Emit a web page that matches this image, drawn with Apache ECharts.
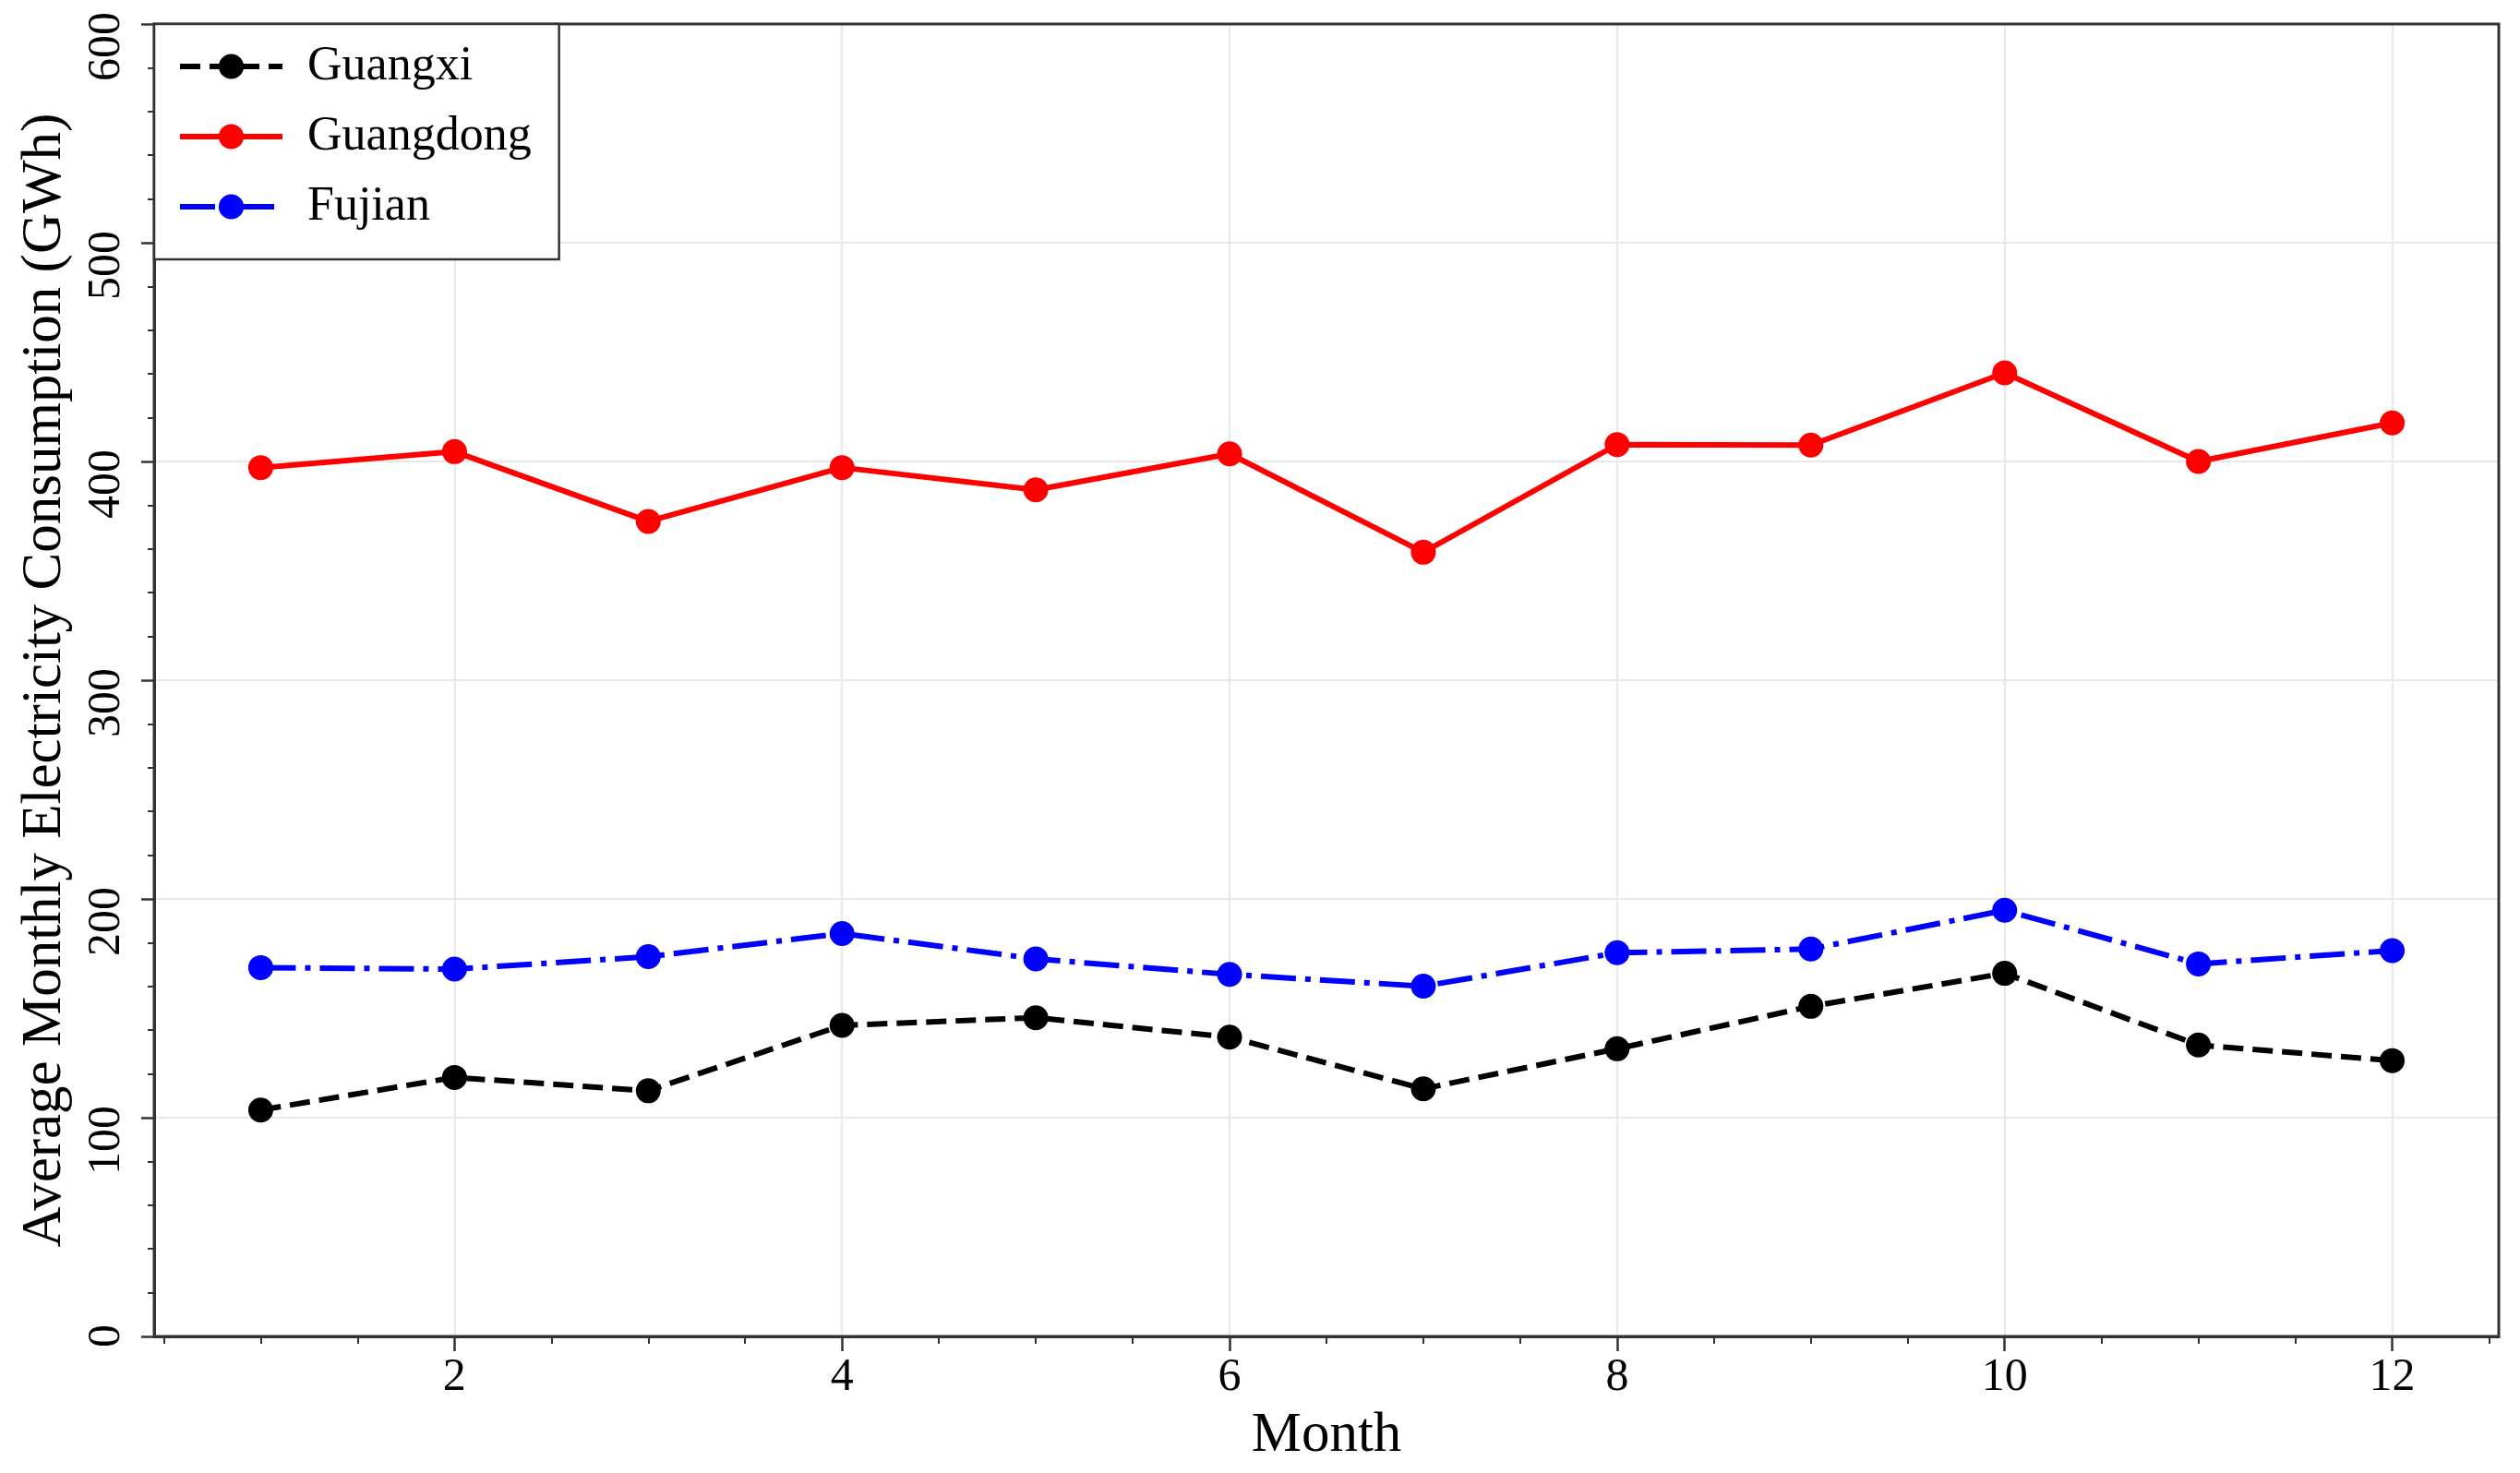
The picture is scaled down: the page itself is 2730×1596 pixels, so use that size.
<!DOCTYPE html>
<html>
<head>
<meta charset="utf-8">
<script src="https://cdn.jsdelivr.net/npm/echarts@6/dist/echarts.min.js"></script>
<style>
html,body{margin:0;padding:0;background:#fff;}
#chart{width:2730px;height:1596px;}
</style>
</head>
<body>
<div id="chart"></div>
<script>
const months = [1,2,3,4,5,6,7,8,9,10,11,12];
const guangxi = [103.5,118.4,112.3,142.2,145.7,136.8,113.2,131.5,150.9,166.0,133.2,126.1];
const guangdong = [397.2,404.5,372.6,397.2,387.0,403.5,358.5,407.7,407.5,440.5,400.0,417.6];
const fujian = [168.6,167.9,173.6,184.2,172.6,165.5,160.1,175.4,177.1,194.8,170.3,176.4];
const xMajorTicks = [2,4,6,8,10,12];
const xMinorTicks = [0.5,1,1.5,2.5,3,3.5,4.5,5,5.5,6.5,7,7.5,8.5,9,9.5,10.5,11,11.5,12.5];
const seriesNames = ['Guangxi','Guangdong','Fujian'];

const FONT = '"Liberation Serif", "Times New Roman", serif';
const AX = '#333333';
const GRIDC = '#e8e8e8';

function pairs(vals){ return months.map((m,i)=>[m, vals[i]]); }

const chart = echarts.init(document.getElementById('chart'));
chart.setOption({
  backgroundColor: '#ffffff',
  animation: false,
  grid: {left:167, right:23, top:26, bottom:148, show:true, borderColor:AX, borderWidth:3,
         backgroundColor:'transparent', outerBoundsMode:'none', containLabel:false, z:10},
  legend: {
    data: seriesNames,
    orient: 'vertical',
    left: 167, top: 26,
    padding: [20, 30, 31, 25],
    itemWidth: 111, itemHeight: 34, itemGap: 24,
    backgroundColor: '#ffffff',
    borderColor: AX, borderWidth: 2.5, borderRadius: 0,
    lineStyle: {width: 6},
    textStyle: {fontFamily: FONT, fontSize: 52, color: '#000', lineHeight: 52, padding: [0,0,0,22]},
    z: 20
  },
  xAxis: [{
    type: 'value', min: 0.45, max: 12.55,
    name: 'Month', nameLocation: 'middle', nameGap: 77,
    nameTextStyle: {fontFamily: FONT, fontSize: 61, color: '#000'},
    axisLine: {show: true, lineStyle: {color: AX, width: 3}},
    axisTick: {show: true, inside: false, length: 16, lineStyle: {color: AX, width: 2.5}, customValues: xMajorTicks},
    axisLabel: {fontFamily: FONT, fontSize: 50, color: '#000', margin: 20, customValues: xMajorTicks},
    splitLine: {show: true, lineStyle: {color: GRIDC, width: 2}, customValues: xMajorTicks}
  },{
    type: 'value', min: 0.45, max: 12.55, position: 'bottom', offset: 0,
    axisLine: {show: false},
    axisTick: {show: true, inside: false, length: 8, lineStyle: {color: AX, width: 2}, customValues: xMinorTicks},
    axisLabel: {show: false},
    splitLine: {show: false}
  }],
  yAxis: {
    type: 'value', min: 0, max: 600, interval: 100,
    name: 'Average Monthly Electricity Consumption (GWh)', nameLocation: 'middle', nameGap: 88, nameRotate: 90,
    nameTextStyle: {fontFamily: FONT, fontSize: 61, color: '#000'},
    axisLine: {show: true, lineStyle: {color: AX, width: 3}},
    axisTick: {show: true, inside: false, length: 14, lineStyle: {color: AX, width: 2.5}},
    minorTick: {show: true, splitNumber: 5, length: 7, lineStyle: {color: AX, width: 2}},
    axisLabel: {fontFamily: FONT, fontSize: 50, color: '#000', rotate: 90, margin: 26, align: 'right', padding: [0, -13, 0, 0]},
    splitLine: {show: true, showMinLine: false, showMaxLine: false, lineStyle: {color: GRIDC, width: 2}}
  },
  series: [
    {name: 'Guangxi', type: 'line', data: pairs(guangxi), symbol: 'circle', symbolSize: 27,
     itemStyle: {color: '#000000'}, lineStyle: {color: '#000000', width: 6, type: [22,10]}, z: 3},
    {name: 'Guangdong', type: 'line', data: pairs(guangdong), symbol: 'circle', symbolSize: 27,
     itemStyle: {color: '#ff0000'}, lineStyle: {color: '#ff0000', width: 6, type: 'solid'}, z: 3},
    {name: 'Fujian', type: 'line', data: pairs(fujian), symbol: 'circle', symbolSize: 27,
     itemStyle: {color: '#0000ff'}, lineStyle: {color: '#0000ff', width: 6, type: [38,10,6,10]}, z: 3}
  ]
});
</script>
</body>
</html>
